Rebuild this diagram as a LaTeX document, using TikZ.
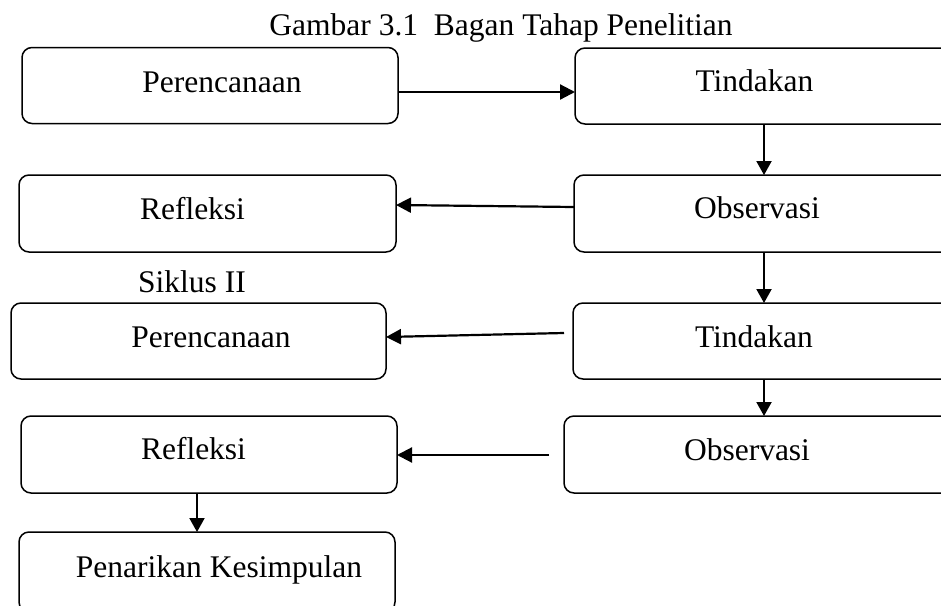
\documentclass[tikz,border=0pt]{standalone}
\usepackage{fontspec}
\setmainfont{Liberation Serif}
\usetikzlibrary{arrows.meta}
\begin{document}
\begin{tikzpicture}[x=1pt,y=-1pt,
  box/.style={draw,line width=1.5pt,rounded corners=10pt,inner sep=0pt,outer sep=0pt},
  lbl/.style={anchor=base,inner sep=0pt,font=\fontsize{31.5}{36}\selectfont},
  harrow/.style={line width=2.2pt,-{Triangle[length=15pt,width=15pt]}},
  varrow/.style={line width=2pt,-{Triangle[length=14pt,width=15pt]}}]
\useasboundingbox (0,0) rectangle (941,605);
\clip (0,0) rectangle (941,605);
% title
\node[lbl] (title) at (501,35) {Gambar 3.1\ \ Bagan Tahap Penelitian};
% boxes
\node[box,minimum width=376pt,minimum height=76pt] (a) at (210,85.5) {};
\node[box,minimum width=385pt,minimum height=76pt] (b) at (767.5,86) {};
\node[box,minimum width=377pt,minimum height=77pt] (d) at (207.5,213.5) {};
\node[box,minimum width=386pt,minimum height=77pt] (c) at (767,213.5) {};
\node[box,minimum width=375pt,minimum height=76pt] (f) at (198.5,341) {};
\node[box,minimum width=387pt,minimum height=76pt] (e) at (766.5,341) {};
\node[box,minimum width=376pt,minimum height=77pt] (h) at (209,454.5) {};
\node[box,minimum width=396pt,minimum height=77pt] (g) at (762,454.5) {};
\node[box,minimum width=376pt,minimum height=80pt] (p) at (207,572) {};
% texts
\node[lbl] (ta) at (222,92) {Perencanaan};
\node[lbl] (tb) at (754.5,91.5) {Tindakan};
\node[lbl] (td) at (192.5,219) {Refleksi};
\node[lbl] (tc) at (757,218) {Observasi};
\node[lbl] (ts) at (192,292) {Siklus II};
\node[lbl] (tf) at (211,347) {Perencanaan};
\node[lbl] (te) at (754,347) {Tindakan};
\node[lbl] (th) at (193.5,459) {Refleksi};
\node[lbl] (tg) at (747,460) {Observasi};
\node[lbl] (tp) at (219,577) {Penarikan Kesimpulan};
% helper coordinates
\coordinate (y1) at (0,92);
\coordinate (vx) at (764,0);
\coordinate (cd0) at (0,207);
\coordinate (cd1) at (0,205);
\coordinate (ef) at (564,333);
\coordinate (ef1) at (0,337);
\coordinate (gh) at (549,455);
\coordinate (hx) at (197,0);
% connectors
\draw[harrow] (a.east |- y1) -- (b.west |- y1);
\draw[varrow] (b.south -| vx) -- (c.north -| vx);
\draw[harrow] (c.west |- cd0) -- (d.east |- cd1);
\draw[varrow] (c.south -| vx) -- (e.north -| vx);
\draw[harrow] (ef) -- (f.east |- ef1);
\draw[varrow] (e.south -| vx) -- (g.north -| vx);
\draw[harrow] (gh) -- (h.east |- gh);
\draw[varrow] (h.south -| hx) -- (p.north -| hx);
\end{tikzpicture}
\end{document}
